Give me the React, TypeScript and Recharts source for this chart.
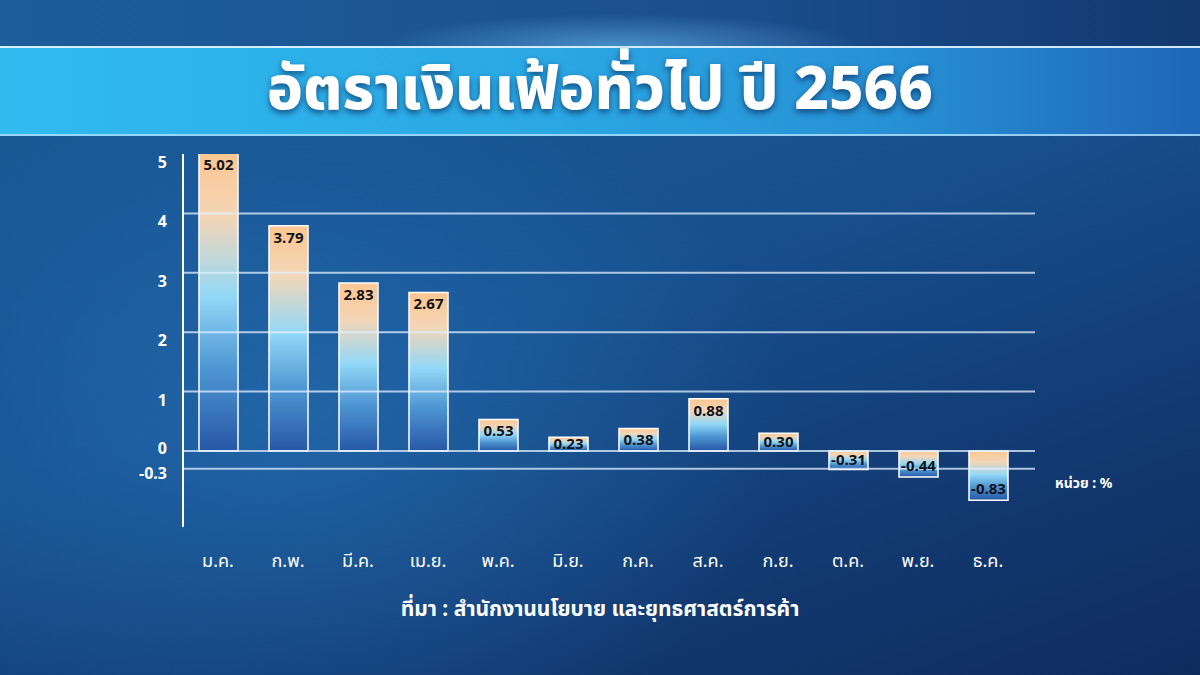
import React from "react";
import { Bar, BarChart, LabelList, ReferenceLine, XAxis, YAxis } from "recharts";

const months = ["ม.ค.", "ก.พ.", "มี.ค.", "เม.ย.", "พ.ค.", "มิ.ย.", "ก.ค.", "ส.ค.", "ก.ย.", "ต.ค.", "พ.ย.", "ธ.ค."];
const inflation = [5.02, 3.79, 2.83, 2.67, 0.53, 0.23, 0.38, 0.88, 0.3, -0.31, -0.44, -0.83];
const yTicks = [5, 4, 3, 2, 1, 0, -0.3];
const gridValues = [4, 3, 2, 1, 0, -0.3];

const data = months.map((m, i) => ({ month: m, value: inflation[i] }));

const FONT = "'Noto Sans', 'Noto Sans Thai', Roboto, sans-serif";

// labels sit a little under their line, except the two close ones near zero
function YTick(props: any) {
  const { x, y, payload } = props;
  const v = payload.value as number;
  const dy = v === -0.3 ? 10 : v === 0 ? 3 : 14;
  return (
    <text x={x - 8} y={y + dy} textAnchor="end" fill="#ffffff" fontSize={16} fontWeight={700} fontFamily={FONT}>
      {v === -0.3 ? "-0.3" : String(v)}
    </text>
  );
}

function XTick(props: any) {
  const { x, payload } = props;
  return (
    <text x={x} y={567} textAnchor="middle" fill="#ffffff" fontSize={18} fontFamily={FONT}>
      {payload.value}
    </text>
  );
}

function BarLabel(props: any) {
  const { x, y, width, height, value } = props;
  const top = Math.min(y, y + height);
  const bottom = Math.max(y, y + height);
  const h = bottom - top;
  const cy = value >= 0 ? top + Math.min(12, h / 2) : bottom - Math.min(11, h / 2);
  return (
    <text x={x + width / 2} y={cy + 5} textAnchor="middle" fill="#111318" fontSize={15} fontWeight={700} fontFamily={FONT}>
      {(value as number).toFixed(2)}
    </text>
  );
}

export default function App() {
  return (
    <div
      style={{
        position: "absolute",
        left: 0,
        top: 0,
        width: 1200,
        height: 675,
        overflow: "hidden",
        fontFamily: FONT,
        background:
          "radial-gradient(ellipse 700px 500px at 300px 420px, rgba(40,120,190,0.55), rgba(20,70,140,0) 70%), linear-gradient(160deg, #1a5a98 0%, #17508e 45%, #123a72 75%, #0f2c5e 100%)",
      }}
    >
      {/* title band */}
      <div
        style={{
          position: "absolute",
          left: 0,
          top: 0,
          width: 1200,
          height: 46,
          background: "radial-gradient(ellipse 300px 40px at 620px 46px, rgba(120,200,255,0.5), rgba(0,0,0,0) 80%), linear-gradient(90deg, #1d5d9c, #1a4f8e 60%, #13386f)",
        }}
      />
      <div
        style={{
          position: "absolute",
          left: 0,
          top: 46,
          width: 1200,
          height: 90,
          background: "linear-gradient(90deg, #30bbef 0%, #2ba8e4 45%, #2790d4 75%, #1f66b6 100%)",
          borderTop: "2px solid rgba(230,245,255,0.9)",
          borderBottom: "2px solid rgba(170,220,250,0.85)",
          boxSizing: "border-box",
          display: "flex",
          alignItems: "center",
          justifyContent: "center",
        }}
      >
        <div
          style={{
            color: "#ffffff",
            fontSize: 60,
            fontWeight: 800,
            letterSpacing: 0,
            textShadow: "0 3px 6px rgba(5,30,80,0.65)",
            marginTop: -2,
          }}
        >
          อัตราเงินเฟ้อทั่วไป ปี 2566
        </div>
      </div>

      <div style={{ position: "absolute", left: 0, top: 0 }}>
        <BarChart
          width={1200}
          height={675}
          data={data}
          margin={{ top: 154, right: 165, bottom: 108, left: 0 }}
          barSize={39}
        >
          <defs>
            <linearGradient id="barFill" x1="0" y1="0" x2="0" y2="1">
              <stop offset="0%" stopColor="#fbc690" />
              <stop offset="22%" stopColor="#f3d6b8" />
              <stop offset="48%" stopColor="#93d8f7" />
              <stop offset="72%" stopColor="#4f97d4" />
              <stop offset="100%" stopColor="#2657a6" />
            </linearGradient>
          </defs>
          <XAxis
            dataKey="month"
            axisLine={false}
            tickLine={false}
            height={40}
            padding={{ left: 0, right: 12 }}
            tick={<XTick />}
            interval={0}
          />
          <YAxis
            type="number"
            domain={[-1.28, 5]}
            ticks={yTicks}
            allowDataOverflow
            width={183}
            axisLine={{ stroke: "#ffffff", strokeWidth: 2 }}
            tickLine={false}
            tick={<YTick />}
            interval={0}
          />
          {gridValues.map((v) => (
            <ReferenceLine key={v} y={v} stroke="rgba(225,240,255,0.75)" strokeWidth={2} />
          ))}
          <Bar dataKey="value" fill="url(#barFill)" stroke="#ffffff" strokeWidth={1.5} isAnimationActive={false}>
            <LabelList dataKey="value" content={<BarLabel />} />
          </Bar>
        </BarChart>
      </div>

      <div
        style={{
          position: "absolute",
          left: 1055,
          top: 473,
          color: "#ffffff",
          fontSize: 14,
          fontWeight: 700,
        }}
      >
        หน่วย : %
      </div>
      <div
        style={{
          position: "absolute",
          left: 0,
          width: 1200,
          top: 594,
          textAlign: "center",
          color: "#ffffff",
          fontSize: 21,
          fontWeight: 700,
        }}
      >
        ที่มา : สำนักงานนโยบาย และยุทธศาสตร์การค้า
      </div>
    </div>
  );
}
